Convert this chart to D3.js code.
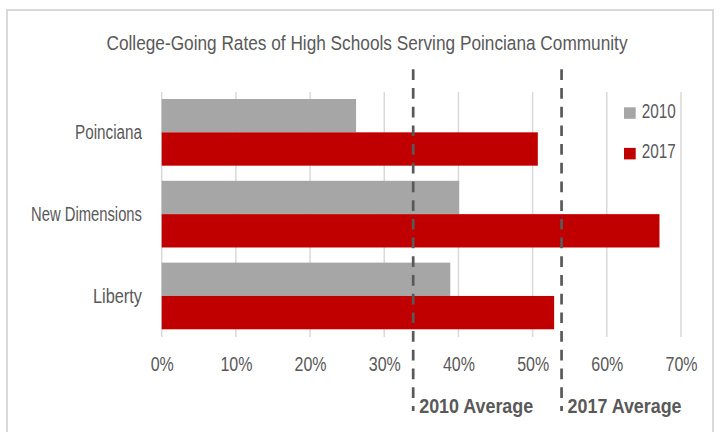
<!DOCTYPE html>
<html>
<head>
<meta charset="utf-8">
<script src="https://cdn.jsdelivr.net/npm/d3@7"></script>
<style>
  html, body { margin: 0; padding: 0; background: #fff; }
  svg { display: block; }
  text { font-family: "Liberation Sans", Arial, sans-serif; fill: #595959; }
</style>
</head>
<body>
<svg id="chart" width="721" height="432"></svg>
<script>
const categories = ["Poinciana", "New Dimensions", "Liberty"];
const seriesNames = ["2010", "2017"];
const values2010 = [0.262, 0.401, 0.389];
const values2017 = [0.507, 0.671, 0.529];
const averages = [0.339, 0.539];
const averageLabels = ["2010 Average", "2017 Average"];
const tickValues = [0, 0.1, 0.2, 0.3, 0.4, 0.5, 0.6, 0.7];
const title = "College-Going Rates of High Schools Serving Poinciana Community";
const colors = ["#a6a6a6", "#c00000"];

// rendered widths of the condensed category labels (styling)
const catLabelWidth = { "Poinciana": 67, "New Dimensions": 111, "Liberty": 49 };

const svg = d3.select("#chart");

function condense(sel, k) {
  sel.each(function () {
    const w = this.getComputedTextLength();
    d3.select(this).attr("textLength", w * k).attr("lengthAdjust", "spacingAndGlyphs");
  });
}

// outer frame
svg.append("rect").attr("x", 7).attr("y", 10).attr("width", 706).attr("height", 440)
  .attr("fill", "#fff").attr("stroke", "#d9d9d9").attr("stroke-width", 2);

const x = d3.scaleLinear().domain([0, 0.7]).range([161.7, 681]);
const y = d3.scaleBand().domain(categories).range([99, 329.3]).paddingInner(0.185).paddingOuter(0);
const ySub = d3.scaleBand().domain(seriesNames).range([0, y.bandwidth()]);

// title
svg.append("text").attr("x", 367).attr("y", 50).attr("text-anchor", "middle")
  .style("font-size", "20.5px").text(title)
  .attr("textLength", 521).attr("lengthAdjust", "spacingAndGlyphs");

// gridlines
svg.append("g").selectAll("line").data(tickValues).join("line")
  .attr("x1", d => x(d)).attr("x2", d => x(d))
  .attr("y1", 92).attr("y2", 337)
  .attr("stroke", "#d9d9d9").attr("stroke-width", 1.5);

// x axis labels
const xAxis = d3.axisBottom(x).tickValues(tickValues).tickFormat(d3.format(".0%")).tickSize(0).tickPadding(0);
const gx = svg.append("g").attr("transform", "translate(0,356)").call(xAxis);
gx.select(".domain").remove();
gx.selectAll("text").attr("dy", null).attr("y", 14.5)
  .style("font-size", "20px").style("fill", "#595959")
  .style("font-family", "\"Liberation Sans\", Arial, sans-serif")
  .call(condense, 0.8);

// y axis labels
const yAxis = d3.axisLeft(y).tickSize(0).tickPadding(0);
const gy = svg.append("g").attr("transform", "translate(142,0)").call(yAxis);
gy.select(".domain").remove();
gy.selectAll("text").attr("dy", null).attr("x", 0).attr("y", 7)
  .style("font-size", "20px").style("fill", "#595959")
  .style("font-family", "\"Liberation Sans\", Arial, sans-serif")
  .attr("textLength", d => catLabelWidth[d]).attr("lengthAdjust", "spacingAndGlyphs");

// bars
const rows = categories.map((c, i) => ({ cat: c, vals: [values2010[i], values2017[i]] }));
const groups = svg.append("g").selectAll("g").data(rows).join("g")
  .attr("transform", d => `translate(0,${y(d.cat)})`);
groups.selectAll("rect").data(d => d.vals.map((v, j) => ({ key: seriesNames[j], v, j })))
  .join("rect")
  .attr("x", x(0))
  .attr("y", d => ySub(d.key))
  .attr("width", d => x(d.v) - x(0))
  .attr("height", ySub.bandwidth())
  .attr("fill", d => colors[d.j]);

// average lines
svg.append("g").selectAll("line").data(averages).join("line")
  .attr("x1", d => x(d)).attr("x2", d => x(d))
  .attr("y1", 69.3).attr("y2", 411)
  .attr("stroke", "#595959").attr("stroke-width", 2.7)
  .attr("stroke-dasharray", "10.7,8");

svg.append("g").selectAll("text").data(averages).join("text")
  .attr("x", d => x(d) + 6).attr("y", 413.3)
  .style("font-size", "20px").style("font-weight", "bold")
  .text((d, i) => averageLabels[i])
  .attr("textLength", 114).attr("lengthAdjust", "spacingAndGlyphs");

// legend
const lg = svg.append("g").selectAll("g").data(seriesNames).join("g")
  .attr("transform", (d, i) => `translate(624,${107.3 + i * 40.6})`);
lg.append("rect").attr("width", 11.7).attr("height", 11.5).attr("fill", (d, i) => colors[i]);
lg.append("text").attr("x", 17.7).attr("y", 10.3).style("font-size", "20px").text(d => d)
  .attr("textLength", 34).attr("lengthAdjust", "spacingAndGlyphs");
</script>
</body>
</html>
